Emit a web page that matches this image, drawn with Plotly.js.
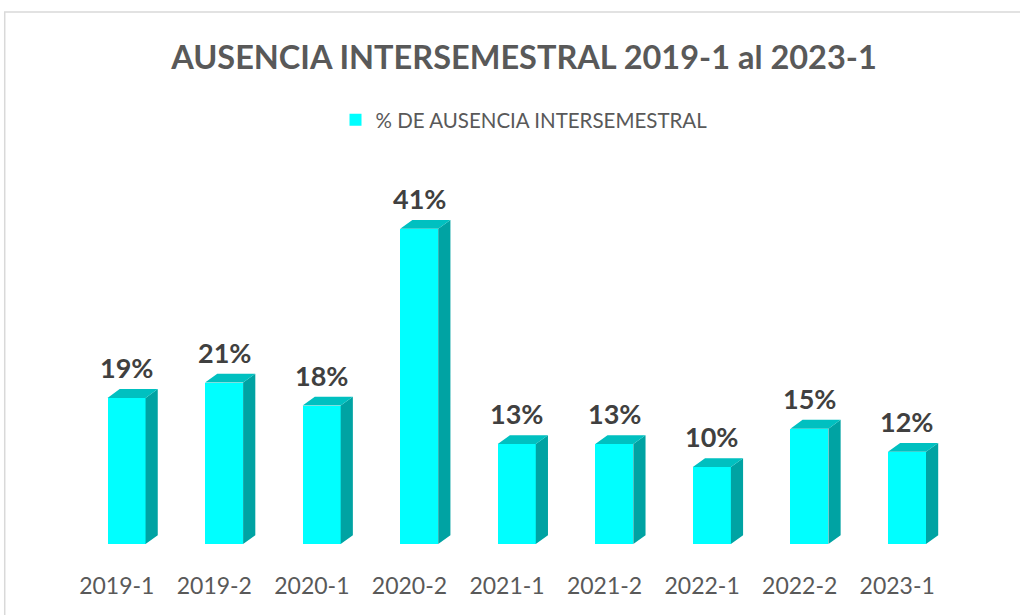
<!DOCTYPE html>
<html>
<head>
<meta charset="utf-8">
<script src="https://cdn.plot.ly/plotly-3.0.1.min.js"></script>
<style>html,body{margin:0;padding:0;background:#fff;}#chart{width:1020px;height:615px;}</style>
</head>
<body>
<div id="chart"></div>
<script>
const categories = ["2019-1","2019-2","2020-1","2020-2","2021-1","2021-2","2022-1","2022-2","2023-1"];
const values = [19, 21, 18, 41, 13, 13, 10, 15, 12];
const seriesName = "% DE AUSENCIA INTERSEMESTRAL";

// 3D look parameters (style)
const shift = 0.1;      // bar body offset from category center
const w = 0.39;         // front face width (category units)
const dx = 0.125;       // depth in x (category units)
const dy = 1.15;        // depth in y (value units)
const FONT = 'Lato, "Open Sans", sans-serif';

const idx = categories.map((c, i) => i);
const barX = idx.map(i => i + shift);

const sideX = [], sideY = [], topX = [], topY = [];
values.forEach((v, i) => {
  const c = i + shift, l = c - w/2, r = c + w/2;
  sideX.push(r, r + dx, r + dx, r, r, null);
  sideY.push(0, dy, v + dy, v, 0, null);
  topX.push(l, l + dx, r + dx, r, l, null);
  topY.push(v, v + dy, v + dy, v, v, null);
});

const traces = [
  {type:'scatter', x: sideX, y: sideY, mode:'lines', fill:'toself', fillcolor:'#00A3A3',
   line:{width:0, color:'#00A3A3'}, showlegend:false, hoverinfo:'skip'},
  {type:'scatter', x: topX, y: topY, mode:'lines', fill:'toself', fillcolor:'#00C0C0',
   line:{width:0, color:'#00C0C0'}, showlegend:false, hoverinfo:'skip'},
  {type:'bar', x: barX, y: values, width: w, name: seriesName,
   marker:{color:'#00FFFF', line:{width:0}}, hoverinfo:'y'}
];

const annotations = values.map((v, i) => ({
  x: barX[i], y: v + dy, xref:'x', yref:'y', text: '<b>' + v + '%</b>',
  showarrow:false, xanchor:'center', yanchor:'bottom', yshift:3,
  font:{family: FONT, size:27, color:'#404040'}
}));

const layout = {
  width:1020, height:615,
  margin:{l:68.25, r:74.25, t:198, b:71},
  paper_bgcolor:'#ffffff', plot_bgcolor:'#ffffff',
  title:{text:'<b>AUSENCIA INTERSEMESTRAL 2019-1 al 2023-1</b>',
         font:{family: FONT, size:32.5, color:'#595959'},
         x:524/1020, xanchor:'center', y:1-58/615, yanchor:'middle', yref:'container'},
  showlegend:true,
  legend:{orientation:'h', x:(524-68.25)/877.5, xanchor:'center', y:(544-120)/346, yanchor:'middle',
          font:{family: FONT, size:20.5, color:'#595959'},
          itemwidth:30},
  bargap:0,
  annotations: annotations,
  xaxis:{range:[-0.5, 8.5], tickmode:'array', tickvals: idx, ticktext: categories,
         showgrid:false, zeroline:false, showline:false, ticks:'', ticklabelstandoff:26,
         tickfont:{family: FONT, size:23, color:'#595959'}},
  yaxis:{range:[0, 45], visible:false, showgrid:false, zeroline:false},
  shapes:[{type:'rect', xref:'paper', yref:'paper', x0:(5-68.25)/877.5, x1:1.3, y0:-0.5, y1:(544-12)/346,
           line:{color:'#d9d9d9', width:1.5}, fillcolor:'rgba(0,0,0,0)', layer:'below'}]
};

Plotly.newPlot('chart', traces, layout, {displayModeBar:false, staticPlot:true});
</script>
</body>
</html>
